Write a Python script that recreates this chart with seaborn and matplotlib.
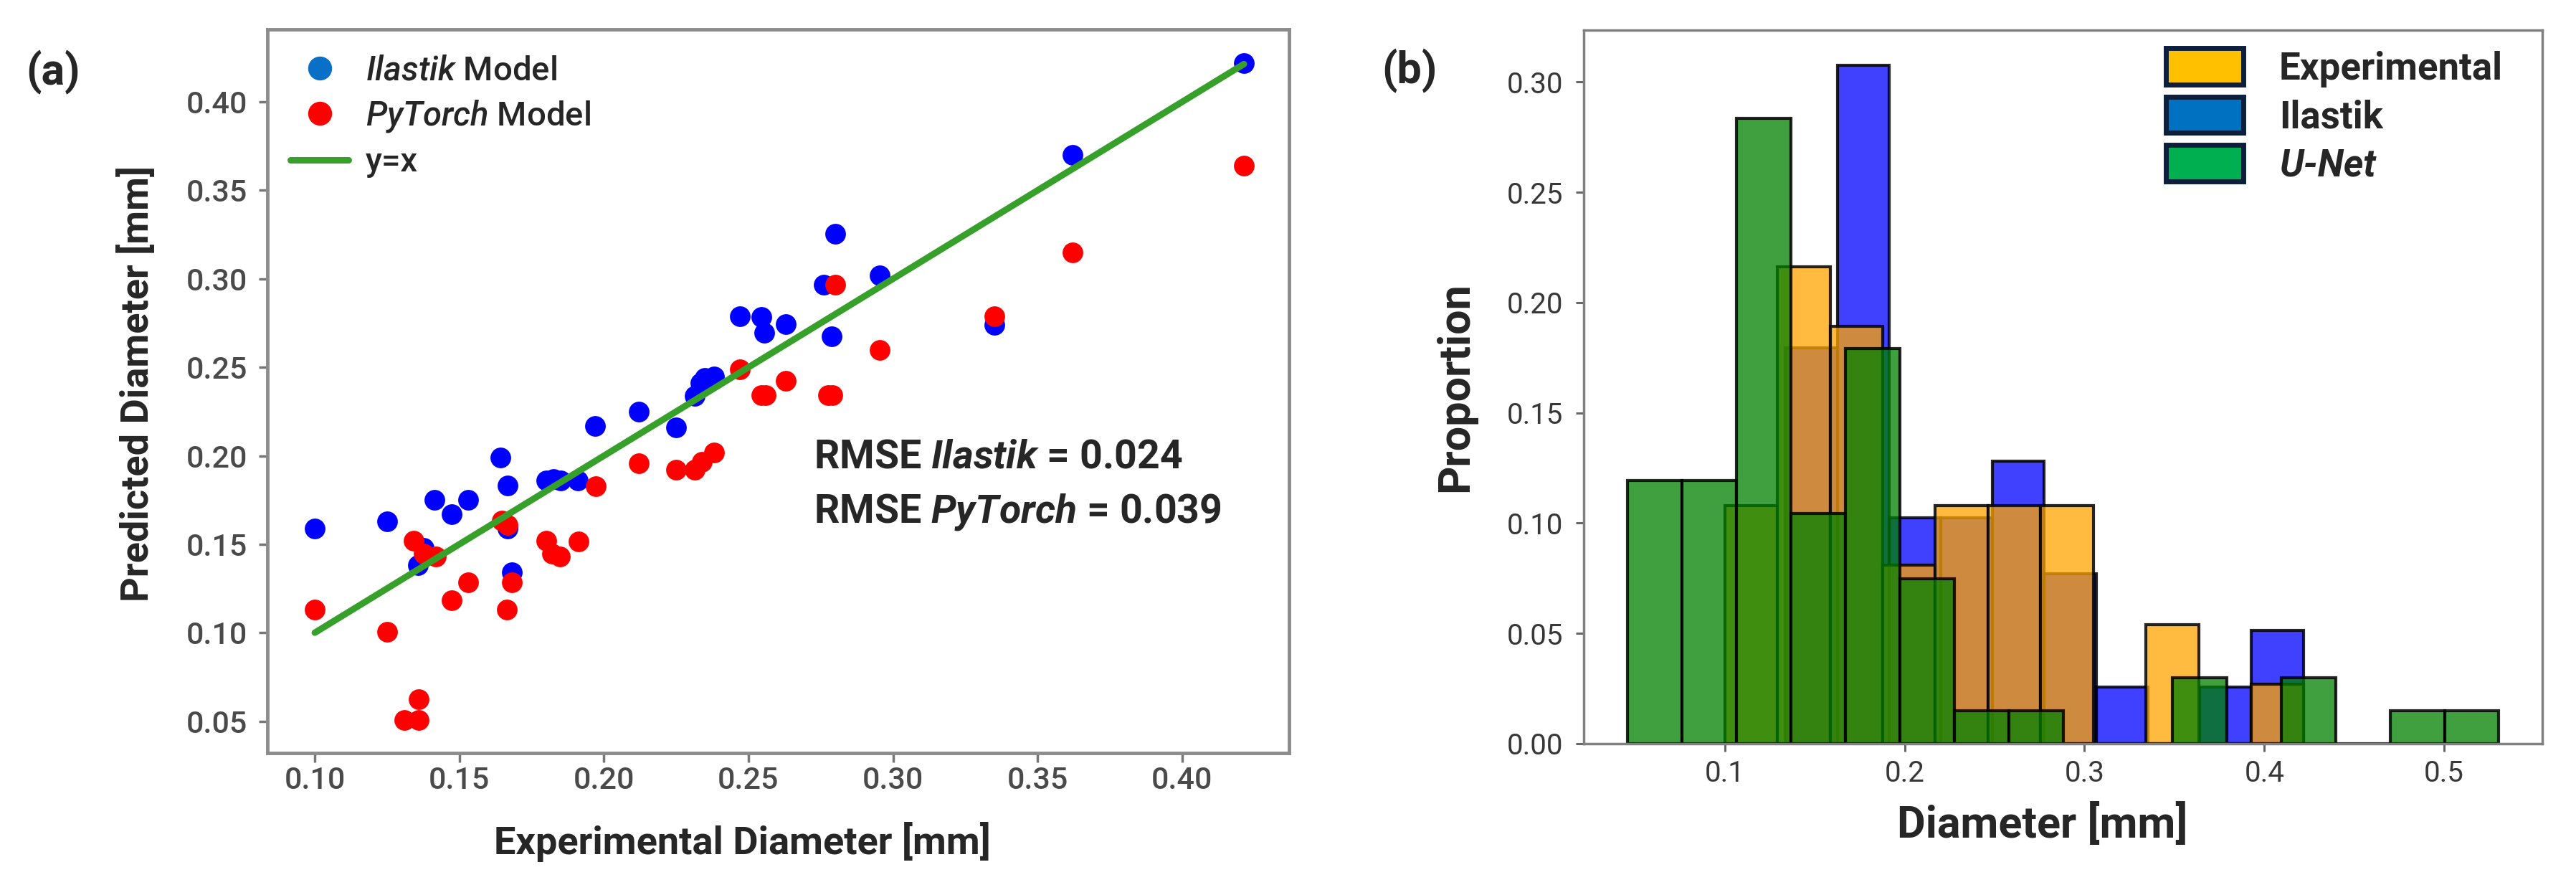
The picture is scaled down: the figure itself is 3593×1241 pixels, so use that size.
import numpy as np
import pandas as pd
import matplotlib
matplotlib.use('agg')
import matplotlib.pyplot as plt
from matplotlib.lines import Line2D
from matplotlib.patches import Patch
from matplotlib.ticker import FormatStrFormatter
import seaborn as sns

# ---- panel (a): predicted vs experimental diameter [mm]
ilastik_exp = [0.100, 0.125, 0.1356, 0.1377, 0.1413, 0.1473, 0.1531, 0.1641, 0.1667, 0.1667,
               0.1681, 0.180, 0.1825, 0.185, 0.191, 0.197, 0.212, 0.225, 0.2313, 0.2334,
               0.235, 0.238, 0.247, 0.2545, 0.2555, 0.263, 0.276, 0.2787, 0.280, 0.2955,
               0.335, 0.362, 0.4214]
ilastik_pred = [0.159, 0.163, 0.138, 0.148, 0.175, 0.167, 0.175, 0.199, 0.183, 0.159,
                0.134, 0.186, 0.187, 0.186, 0.186, 0.217, 0.225, 0.216, 0.234, 0.241,
                0.244, 0.245, 0.279, 0.2785, 0.2695, 0.2745, 0.2965, 0.2676, 0.3256, 0.302,
                0.274, 0.370, 0.422]

pytorch_exp = [0.100, 0.125, 0.1309, 0.1342, 0.1359, 0.1359, 0.1377, 0.142, 0.1473, 0.1531,
               0.1648, 0.1667, 0.1665, 0.1681, 0.1802, 0.182, 0.1848, 0.1912, 0.1972, 0.212,
               0.225, 0.2315, 0.234, 0.238, 0.247, 0.2545, 0.256, 0.2628, 0.2775, 0.279,
               0.280, 0.2955, 0.335, 0.362, 0.4214]
pytorch_pred = [0.113, 0.1005, 0.0508, 0.152, 0.0624, 0.0508, 0.1445, 0.143, 0.1183, 0.1284,
                0.1635, 0.161, 0.113, 0.1284, 0.152, 0.1445, 0.143, 0.1514, 0.1826, 0.1957,
                0.192, 0.192, 0.1964, 0.2018, 0.2488, 0.2343, 0.2343, 0.2423, 0.2343, 0.2343,
                0.2965, 0.260, 0.279, 0.315, 0.364]

rmse_ilastik = 0.024
rmse_pytorch = 0.039

# ---- panel (b): histograms (bin range, counts per bin)
exp_range = (0.100, 0.422)
exp_counts = [4, 8, 7, 3, 4, 4, 4, 0, 2, 0, 1]
ilastik_range = (0.1337, 0.4217)
ilastik_counts = [7, 12, 4, 4, 5, 3, 1, 0, 1, 2]
unet_range = (0.0458, 0.5305)
unet_counts = [8, 8, 19, 7, 12, 5, 1, 1, 0, 0, 2, 0, 2, 0, 1, 1]


def binned_frame(rng, counts):
    edges = np.linspace(rng[0], rng[1], len(counts) + 1)
    df = pd.DataFrame({'diameter': (edges[:-1] + edges[1:]) / 2, 'n': counts})
    return df, [float(e) for e in edges]


sns.set_style('white')
plt.rcParams['font.family'] = ['Roboto', 'DejaVu Sans']
plt.rcParams['mathtext.fontset'] = 'custom'
plt.rcParams['mathtext.rm'] = 'Roboto'
plt.rcParams['mathtext.it'] = 'Roboto:italic:medium'
plt.rcParams['mathtext.bf'] = 'Roboto:bold'
plt.rcParams['mathtext.bfit'] = 'Roboto:italic:bold'

fig = plt.figure(figsize=(35.93, 12.41), dpi=100)
ax1 = fig.add_axes([0.1038, 0.1539, 0.3966, 0.8131])
ax2 = fig.add_axes([0.6148, 0.1644, 0.3721, 0.8014])

# ---------- (a)
sns.scatterplot(x=ilastik_exp, y=ilastik_pred, color='blue', s=430, linewidth=0, ax=ax1, zorder=3)
sns.scatterplot(x=pytorch_exp, y=pytorch_pred, color='red', s=430, linewidth=0, ax=ax1, zorder=3)
line_x = [min(ilastik_exp), max(ilastik_exp)]
sns.lineplot(x=line_x, y=line_x, color='#36a02a', linewidth=6.5, ax=ax1, zorder=4)

ax1.set_xlim(0.0836, 0.437)
ax1.set_ylim(0.032, 0.441)
ax1.set_xticks(np.arange(0.10, 0.401, 0.05))
ax1.set_yticks(np.arange(0.05, 0.401, 0.05))
ax1.xaxis.set_major_formatter(FormatStrFormatter('%.2f'))
ax1.yaxis.set_major_formatter(FormatStrFormatter('%.2f'))
ax1.tick_params(axis='both', labelsize=31, labelcolor='#4a4a4a', color='#777777',
                length=9, width=2.5, direction='out', bottom=True, left=True)
ax1.tick_params(axis='x', pad=4)
ax1.tick_params(axis='y', pad=11)
for lbl in ax1.get_xticklabels() + ax1.get_yticklabels():
    lbl.set_fontweight('medium')
for sp in ax1.spines.values():
    sp.set_color('#8c8c8c')
    sp.set_linewidth(3.5)

ax1.set_xlabel('Experimental Diameter [mm]', fontsize=39, fontweight='bold')
ax1.set_ylabel('Predicted Diameter [mm]', fontsize=39, fontweight='bold')
ax1.xaxis.set_label_coords(0.465, -0.095)
ax1.yaxis.set_label_coords(-0.1088, 0.51)

handles_a = [
    Line2D([], [], marker='o', linestyle='none', markersize=23, color='#0a6fc6'),
    Line2D([], [], marker='o', linestyle='none', markersize=23, color='red'),
    Line2D([], [], color='#36a02a', linewidth=6.5),
]
labels_a = [r'$\mathit{Ilastik}$ Model', r'$\mathit{PyTorch}$ Model', 'y=x']
leg_a = ax1.legend(handles_a, labels_a, loc='upper left', bbox_to_anchor=(0.0225, 0.965),
                   frameon=False, fontsize=34, handlelength=1.72, handletextpad=0.5,
                   labelspacing=0.36, borderpad=0, borderaxespad=0)
for t in leg_a.get_texts():
    t.set_fontweight('medium')

ax1.text(0.5347, 0.4093, r'RMSE $\mathbfit{Ilastik}$ = %.3f' % rmse_ilastik, transform=ax1.transAxes,
         fontsize=40, fontweight='bold', ha='left', va='center')
ax1.text(0.5347, 0.333, r'RMSE $\mathbfit{PyTorch}$ = %.3f' % rmse_pytorch, transform=ax1.transAxes,
         fontsize=40, fontweight='bold', ha='left', va='center')

# ---------- (b)  drawn blue, orange, green so the overlaps mix like the original
for rng, counts, col in [(ilastik_range, ilastik_counts, 'blue'),
                         (exp_range, exp_counts, 'orange'),
                         (unet_range, unet_counts, 'green')]:
    df, edges = binned_frame(rng, counts)
    sns.histplot(data=df, x='diameter', weights='n', bins=edges, stat='proportion',
                 color=col, alpha=0.75, edgecolor=(0, 0, 0, 0.85), linewidth=3.0, ax=ax2)

ax2.set_xlim(0.0215, 0.5546)
ax2.set_ylim(0, 0.3234)
ax2.set_xticks([0.1, 0.2, 0.3, 0.4, 0.5])
ax2.set_yticks(np.arange(0, 0.301, 0.05))
ax2.xaxis.set_major_formatter(FormatStrFormatter('%.1f'))
ax2.yaxis.set_major_formatter(FormatStrFormatter('%.2f'))
ax2.tick_params(axis='both', labelsize=29, labelcolor='#383838', color='#666666',
                length=8, width=2.2, direction='out', bottom=True, left=True)
ax2.tick_params(axis='x', pad=8)
ax2.tick_params(axis='y', pad=13)
for sp in ax2.spines.values():
    sp.set_color('#808080')
    sp.set_linewidth(2.5)

ax2.set_xlabel('Diameter [mm]', fontsize=44, fontweight='bold')
ax2.set_ylabel('Proportion', fontsize=44, fontweight='bold')
ax2.xaxis.set_label_coords(0.4787, -0.0824)
ax2.yaxis.set_label_coords(-0.1122, 0.5)

handles_b = [Patch(facecolor='#ffc000', edgecolor='#0d1f3c', linewidth=5),
             Patch(facecolor='#0070c0', edgecolor='#0d1f3c', linewidth=5),
             Patch(facecolor='#00b050', edgecolor='#0d1f3c', linewidth=5)]
leg = ax2.legend(handles_b, ['Experimental', 'Ilastik', 'U-Net'], loc='upper left',
                 bbox_to_anchor=(0.607, 0.975), frameon=False, fontsize=38,
                 handlelength=2.05, handleheight=1.1, handletextpad=0.95,
                 labelspacing=0.25, borderpad=0, borderaxespad=0)
for t in leg.get_texts():
    t.set_fontweight('bold')
leg.get_texts()[2].set_fontstyle('italic')

fig.text(0.010, 0.919, '(a)', fontsize=44, fontweight='bold', ha='left', va='center')
fig.text(0.5363, 0.920, '(b)', fontsize=44, fontweight='bold', ha='left', va='center')

fig.savefig('out.png', dpi=100)
